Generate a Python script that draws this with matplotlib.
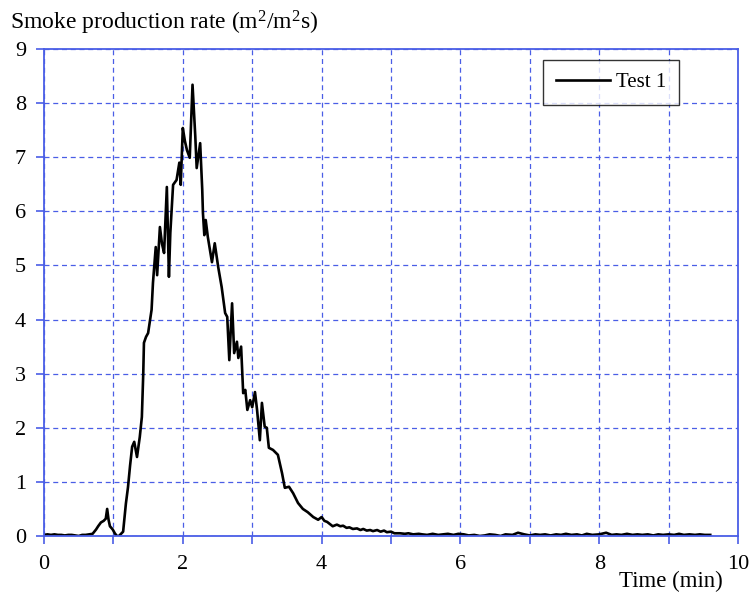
import matplotlib
matplotlib.use("Agg")
import matplotlib.pyplot as plt
from matplotlib.ticker import MultipleLocator, FuncFormatter

plt.rcParams['font.family'] = ['Liberation Serif', 'DejaVu Serif']
plt.rcParams['mathtext.fontset'] = 'custom'
plt.rcParams['mathtext.rm'] = 'Liberation Serif'
plt.rcParams['mathtext.it'] = 'Liberation Serif:italic'

time_min = [
    0.00, 0.05, 0.10, 0.15, 0.20, 0.25, 0.30, 0.35, 0.40, 0.45, 0.50, 0.55, 0.60, 0.65, 0.70,
    0.75, 0.78, 0.82, 0.86, 0.89, 0.91, 0.93, 0.95, 0.99, 1.02, 1.05, 1.08, 1.11, 1.14,
    1.16, 1.18, 1.21, 1.24, 1.27, 1.30, 1.34, 1.38, 1.41, 1.43, 1.44, 1.47, 1.50, 1.55,
    1.57, 1.61, 1.63, 1.67, 1.70, 1.73, 1.77, 1.80, 1.82, 1.86, 1.91, 1.95, 1.97, 2.00,
    2.03, 2.06, 2.10, 2.14, 2.18, 2.20, 2.25, 2.28, 2.29, 2.31, 2.33, 2.36, 2.42, 2.46,
    2.51, 2.56, 2.61, 2.64, 2.67, 2.71, 2.74, 2.78, 2.80, 2.84, 2.87, 2.90, 2.93, 2.97,
    3.00, 3.04, 3.07, 3.11, 3.14, 3.18, 3.21, 3.24, 3.30, 3.37, 3.43, 3.47, 3.53, 3.59,
    3.66, 3.73, 3.80, 3.88, 3.95, 4.00, 4.04, 4.08, 4.12, 4.16, 4.22, 4.27, 4.31, 4.36,
    4.40, 4.45, 4.51, 4.56, 4.60, 4.65, 4.70, 4.74, 4.80, 4.85, 4.90, 4.94, 5.00, 5.05,
    5.13, 5.20, 5.25, 5.32, 5.40, 5.45, 5.52, 5.60, 5.68, 5.75, 5.82, 5.90, 5.97, 6.05,
    6.12, 6.20, 6.28, 6.35, 6.42, 6.50, 6.58, 6.65, 6.75, 6.83, 6.92, 7.00, 7.08, 7.15,
    7.22, 7.30, 7.38, 7.45, 7.52, 7.60, 7.68, 7.75, 7.82, 7.90, 8.00, 8.10, 8.18, 8.25,
    8.32, 8.40, 8.48, 8.55, 8.62, 8.70, 8.78, 8.85, 8.92, 9.00, 9.08, 9.15, 9.22, 9.30,
    9.38, 9.45, 9.52, 9.60,
]
smoke_rate = [
    0.02, 0.03, 0.02, 0.03, 0.02, 0.02, 0.01, 0.02, 0.02, 0.01, 0.00, 0.02, 0.02, 0.03, 0.04,
    0.12, 0.18, 0.25, 0.28, 0.32, 0.50, 0.30, 0.18, 0.12, 0.05, 0.00, 0.00, 0.04, 0.08,
    0.35, 0.60, 0.90, 1.30, 1.65, 1.74, 1.46, 1.83, 2.20, 3.00, 3.57, 3.68, 3.75, 4.18,
    4.68, 5.34, 4.82, 5.71, 5.40, 5.23, 6.45, 4.79, 5.60, 6.49, 6.58, 6.90, 6.49, 7.54,
    7.30, 7.13, 6.99, 8.34, 7.38, 6.80, 7.26, 6.40, 5.97, 5.56, 5.84, 5.53, 5.06, 5.41,
    4.97, 4.60, 4.12, 4.05, 3.25, 4.30, 3.38, 3.59, 3.29, 3.50, 2.64, 2.70, 2.33, 2.51,
    2.38, 2.66, 2.33, 1.77, 2.46, 2.02, 2.00, 1.63, 1.59, 1.50, 1.16, 0.89, 0.91, 0.79,
    0.61, 0.50, 0.44, 0.35, 0.30, 0.35, 0.28, 0.26, 0.22, 0.18, 0.21, 0.18, 0.19, 0.15,
    0.16, 0.13, 0.14, 0.11, 0.13, 0.10, 0.11, 0.09, 0.11, 0.08, 0.10, 0.07, 0.08, 0.05,
    0.05, 0.04, 0.05, 0.03, 0.04, 0.03, 0.02, 0.04, 0.02, 0.03, 0.04, 0.02, 0.04, 0.03,
    0.01, 0.02, 0.00, 0.01, 0.03, 0.02, 0.00, 0.03, 0.02, 0.06, 0.03, 0.01, 0.03, 0.02,
    0.03, 0.01, 0.03, 0.02, 0.04, 0.02, 0.03, 0.01, 0.04, 0.02, 0.03, 0.06, 0.02, 0.03,
    0.02, 0.04, 0.02, 0.03, 0.02, 0.03, 0.01, 0.03, 0.02, 0.03, 0.02, 0.04, 0.02, 0.03,
    0.02, 0.03, 0.02, 0.02,
]

series_label = "Test 1"
y_title = r"Smoke production rate (m$^{2}$/m$^{2}$s)"
x_title = "Time (min)"

blue = '#4a5ee6'

fig = plt.figure(figsize=(7.51, 5.97), dpi=100)
ax = fig.add_axes([0.0586, 0.1022, 0.9241, 0.8157])

ax.plot(time_min, smoke_rate, color='black', linewidth=1.9, label=series_label)

ax.set_xlim(0, 10)
ax.set_ylim(0, 9)
ax.xaxis.set_major_locator(MultipleLocator(1))
ax.yaxis.set_major_locator(MultipleLocator(1))
ax.xaxis.set_major_formatter(FuncFormatter(lambda v, p: f"{int(round(v))}" if int(round(v)) % 2 == 0 else ""))

for s in ax.spines.values():
    s.set_color(blue)
    s.set_linewidth(1.3)

ax.grid(True, color=blue, linestyle=(0, (4, 3)), linewidth=0.9)
ax.tick_params(axis='both', direction='out', length=6, width=1.2, color=blue,
               labelsize=16, labelcolor='black')
ax.tick_params(axis='x', pad=8)
ax.tick_params(axis='y', pad=7)

fig.text(0.013, 0.962, y_title, fontsize=17, ha='left', va='center')
fig.text(0.963, 0.026, x_title, fontsize=16.5, ha='right', va='center')

leg = ax.legend(loc='upper right', bbox_to_anchor=(0.93, 0.998), fontsize=15,
                frameon=True, fancybox=False, handlelength=2.6, handletextpad=0.3,
                borderpad=0.6)
leg.get_frame().set_edgecolor('black')
leg.get_frame().set_linewidth(1.0)

fig.savefig('out.png', dpi=100)
